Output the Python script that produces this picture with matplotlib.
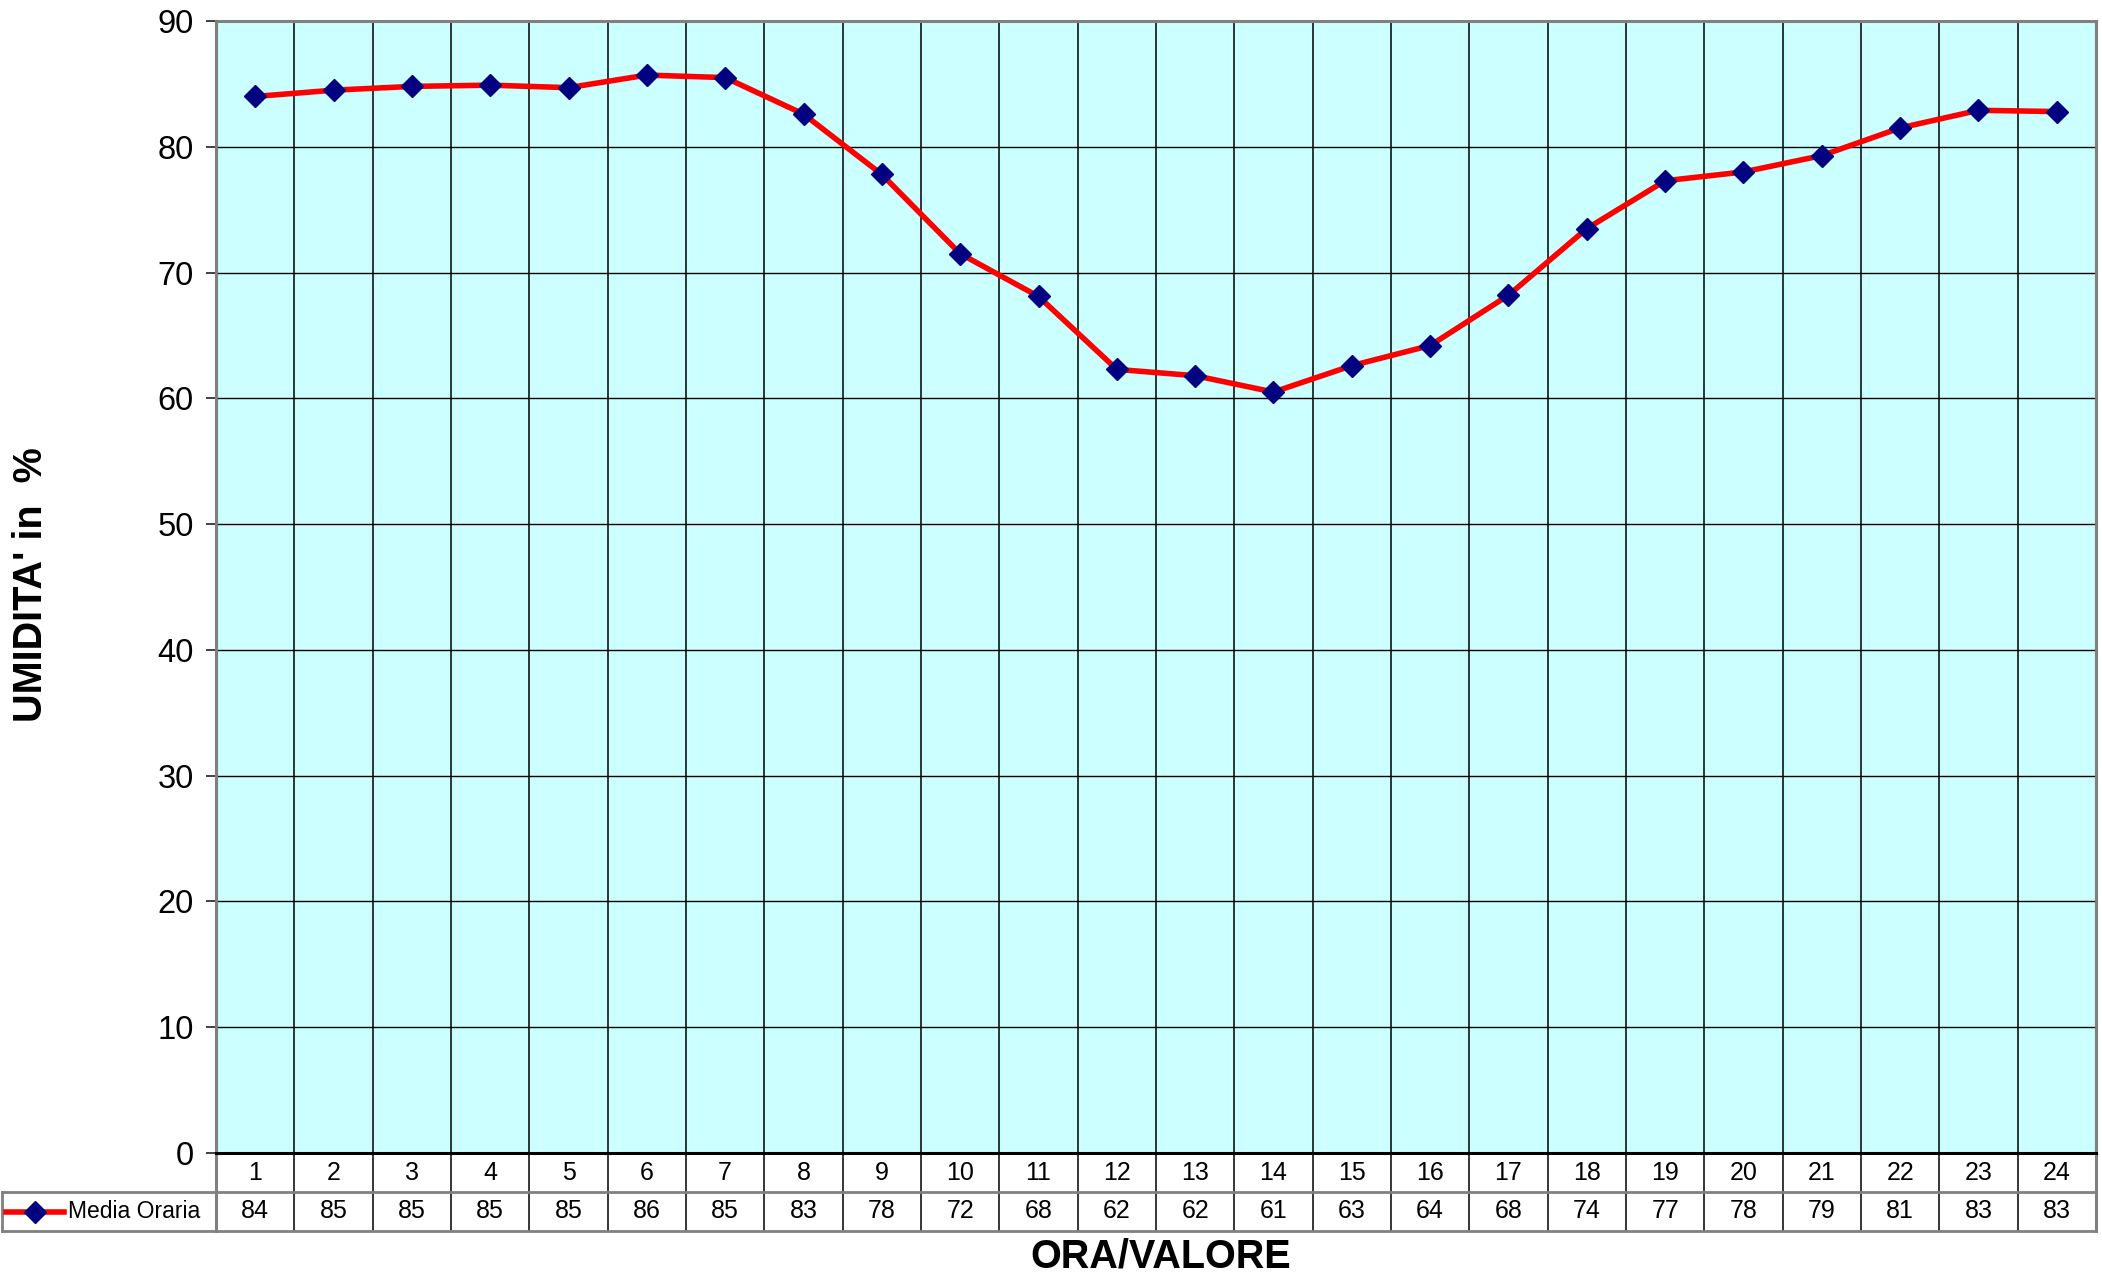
import matplotlib.pyplot as plt
import matplotlib.transforms as mtransforms

plt.rcParams['font.family'] = ['Liberation Sans', 'DejaVu Sans']

# ore del giorno e umidita' media oraria
ore = list(range(1, 25))
umidita = [84.0, 84.5, 84.8, 84.9, 84.7, 85.7, 85.5, 82.6, 77.8, 71.5, 68.1, 62.3,
           61.8, 60.5, 62.6, 64.2, 68.2, 73.5, 77.3, 78.0, 79.3, 81.5, 82.9, 82.8]
valori_tabella = [84, 85, 85, 85, 85, 86, 85, 83, 78, 72, 68, 62,
                  62, 61, 63, 64, 68, 74, 77, 78, 79, 81, 83, 83]
serie = "Media Oraria"

W, H = 2102, 1276
fig = plt.figure(figsize=(W / 100, H / 100), dpi=100)
left, right, top, bottom = 216, 2096, 21, 1153
ax = fig.add_axes([left / W, 1 - bottom / H, (right - left) / W, (bottom - top) / H])
ax.set_facecolor('#CCFFFF')

ax.plot(ore, umidita, color='red', lw=4, marker='D', ms=11.5,
        mfc='#000080', mec='#000080', zorder=3)

ax.set_xlim(0.5, 24.5)
ax.set_ylim(0, 90)
ax.set_yticks(range(0, 91, 10))
ax.tick_params(axis='y', labelsize=23.5, length=7, width=1.2, color='#202020', pad=9)
ax.set_xticks([])
for y in range(10, 90, 10):
    ax.axhline(y, color='black', lw=1, zorder=1)
for s in ax.spines.values():
    s.set_color('#808080')
    s.set_linewidth(2.2)
ax.spines['bottom'].set_color('black')
ax.spines['bottom'].set_zorder(4)

# tabella dati sotto il grafico
trans = mtransforms.blended_transform_factory(ax.transData, ax.transAxes)
h = 39 / (bottom - top)
for k in range(25):
    xb = 0.5 + k
    col = '#808080' if k in (0, 24) else 'black'
    lw = 2.2 if k in (0, 24) else 1.1
    ax.plot([xb, xb], [-2 * h, 1], transform=trans, color=col, lw=lw,
            clip_on=False, zorder=2)
for yy in (-h, -2 * h):
    ax.plot([0.5, 24.5], [yy, yy], transform=trans, color='#808080', lw=2,
            clip_on=False)
for o, v in zip(ore, valori_tabella):
    ax.text(o, -h / 2, str(o), transform=trans, ha='center', va='center', fontsize=18)
    ax.text(o, -1.5 * h, str(v), transform=trans, ha='center', va='center', fontsize=18)

# cella legenda
xl = (2 - left) / (right - left)
ax.plot([xl, 0], [-h, -h], transform=ax.transAxes, color='#808080', lw=2, clip_on=False)
ax.plot([xl, 0], [-2 * h, -2 * h], transform=ax.transAxes, color='#808080', lw=2, clip_on=False)
ax.plot([xl, xl], [-h, -2 * h], transform=ax.transAxes, color='#808080', lw=2, clip_on=False)
x1 = (6 - left) / (right - left)
x2 = (64 - left) / (right - left)
xm = (35 - left) / (right - left)
ax.plot([x1, x2], [-1.5 * h, -1.5 * h], transform=ax.transAxes, color='red', lw=4,
        clip_on=False)
ax.plot([xm], [-1.5 * h], transform=ax.transAxes, marker='D', ms=11.5, color='#000080',
        clip_on=False)
ax.text((68 - left) / (right - left), -1.5 * h, serie, transform=ax.transAxes,
        ha='left', va='center', fontsize=16.5)

fig.text(31 / W, 1 - 585 / H, "UMIDITA' in  %", rotation=90, ha='center', va='center',
         fontsize=28.5, fontweight='bold')
fig.text(1161 / W, 1 - 1257 / H, "ORA/VALORE", ha='center', va='center',
         fontsize=28.5, fontweight='bold')

fig.savefig('out.png', dpi=100)
